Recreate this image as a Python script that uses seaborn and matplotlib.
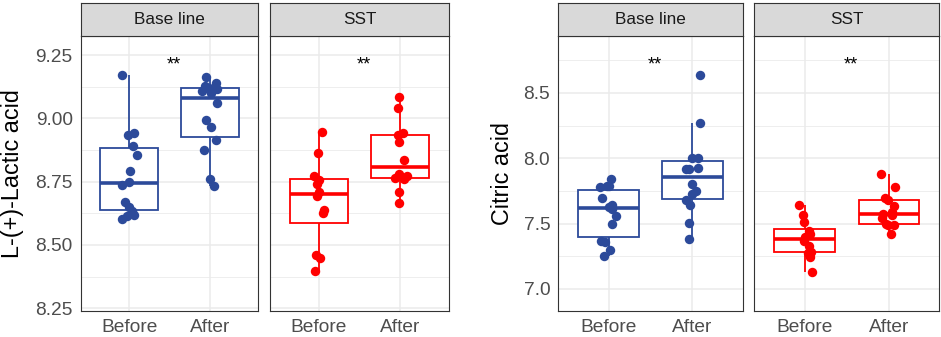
import matplotlib

matplotlib.use("Agg")
import matplotlib.pyplot as plt
import matplotlib.transforms as mtransforms
import numpy as np
import pandas as pd
import seaborn as sns

GROUPS = ["Base line", "SST"]
TIMES = ["Before", "After"]

# L-(+)-Lactic acid
lactic_base_before = [9.172, 8.941, 8.935, 8.892, 8.856, 8.793, 8.750, 8.738, 8.668, 8.648, 8.635, 8.619, 8.615, 8.602]
lactic_base_after = [9.162, 9.140, 9.130, 9.120, 9.115, 9.110, 9.100, 9.063, 8.993, 8.968, 8.915, 8.876, 8.760, 8.732]
lactic_sst_before = [8.947, 8.864, 8.771, 8.757, 8.740, 8.710, 8.694, 8.638, 8.628, 8.459, 8.450, 8.397]
lactic_sst_after = [9.085, 9.040, 8.941, 8.935, 8.905, 8.835, 8.780, 8.771, 8.765, 8.760, 8.710, 8.665]

# Citric acid
citric_base_before = [7.844, 7.790, 7.785, 7.780, 7.698, 7.641, 7.630, 7.608, 7.556, 7.500, 7.364, 7.356, 7.295, 7.249]
citric_base_after = [8.641, 8.269, 8.000, 8.000, 7.928, 7.921, 7.915, 7.800, 7.749, 7.723, 7.679, 7.641, 7.505, 7.385]
citric_sst_before = [7.646, 7.569, 7.510, 7.441, 7.420, 7.395, 7.364, 7.331, 7.280, 7.275, 7.241, 7.133]
citric_sst_after = [7.877, 7.782, 7.692, 7.679, 7.633, 7.590, 7.570, 7.564, 7.544, 7.498, 7.492, 7.490, 7.421]

lactic_ticks = ["8.25", "8.50", "8.75", "9.00", "9.25"]
citric_ticks = ["7.0", "7.5", "8.0", "8.5"]
signif_labels = ["**", "**"]

BLUE = "#2C4A9A"
RED = "#FF0000"
GRID = "#EBEBEB"
BORDER = "#333333"


def make_frame(base_before, base_after, sst_before, sst_after):
    rows = []
    for group, time, vals in [
        ("Base line", "Before", base_before),
        ("Base line", "After", base_after),
        ("SST", "Before", sst_before),
        ("SST", "After", sst_after),
    ]:
        rows += [(group, time, v) for v in vals]
    return pd.DataFrame(rows, columns=["group", "time", "value"])


def draw_panel(fig, rect, sub, color, ticks, ylim, show_y, label, signif):
    ax = fig.add_axes(rect)
    sns.boxplot(
        data=sub, x="time", y="value", order=TIMES, ax=ax,
        color="white", linecolor=color, width=0.72, linewidth=1.3,
        showcaps=False, showfliers=False, whis=1.5,
        medianprops={"linewidth": 2.6, "color": color},
    )
    sns.stripplot(
        data=sub, x="time", y="value", order=TIMES, ax=ax,
        color=color, size=6.8, jitter=0.1, linewidth=0,
    )
    tick_vals = [float(t) for t in ticks]
    step = tick_vals[1] - tick_vals[0]
    minor = [t + step / 2 for t in [tick_vals[0] - step] + tick_vals]
    ax.set_xlim(-0.6, 1.6)
    ax.set_ylim(*ylim)
    ax.set_yticks(tick_vals)
    ax.set_yticks([m for m in minor if ylim[0] < m < ylim[1]], minor=True)
    ax.set_axisbelow(True)
    ax.grid(True, which="major", color=GRID, linewidth=1.1)
    ax.grid(True, which="minor", axis="y", color=GRID, linewidth=0.6)
    ax.set_xlabel("")
    ax.set_ylabel("")
    ax.tick_params(axis="both", which="major", length=3.8, width=0.8, color=BORDER,
                   labelsize=13.8, labelcolor="#4D4D4D", pad=2)
    ax.tick_params(axis="y", which="minor", length=0)
    if show_y:
        ax.set_yticklabels(ticks)
    else:
        ax.tick_params(axis="y", which="major", length=0, labelleft=False)
    for sp in ax.spines.values():
        sp.set_color(BORDER)
        sp.set_linewidth(0.8)
    trans = mtransforms.blended_transform_factory(ax.transData, ax.transAxes)
    ax.text(0.55, 0.893, signif, transform=trans, ha="center", va="center",
            fontsize=13, color="black")

    strip = fig.add_axes([rect[0], rect[1] + rect[3], rect[2], 33.3 / 337])
    strip.set_facecolor("#D9D9D9")
    strip.set_xticks([])
    strip.set_yticks([])
    for sp in strip.spines.values():
        sp.set_color(BORDER)
        sp.set_linewidth(0.8)
    strip.text(0.5, 0.5, label, ha="center", va="center", fontsize=12.3, color="#1A1A1A",
               transform=strip.transAxes)
    return ax


sns.set_style("white")
plt.rcParams["font.family"] = ["Liberation Sans", "DejaVu Sans"]
np.random.seed(7)

lactic = make_frame(lactic_base_before, lactic_base_after, lactic_sst_before, lactic_sst_after)
citric = make_frame(citric_base_before, citric_base_after, citric_sst_before, citric_sst_after)

W, H = 941, 337
fig = plt.figure(figsize=(W / 100, H / 100), dpi=100)
bottom = 1 - 310.7 / H
height = (310.7 - 36) / H

charts = [
    (lactic, lactic_ticks, (8.24, 9.326), [80.7, 270.3], [177.6, 178.4], "L-(+)-Lactic acid", 19.5),
    (citric, citric_ticks, (6.833, 8.936), [558.3, 754.3], [184.4, 185.0], "Citric acid", 509.3),
]
for data, ticks, ylim, lefts, widths, ylabel, ylab_x in charts:
    for i, (group, color) in enumerate(zip(GROUPS, [BLUE, RED])):
        sub = data[data["group"] == group]
        draw_panel(fig, [lefts[i] / W, bottom, widths[i] / W, height], sub, color,
                   ticks, ylim, i == 0, group, signif_labels[i])
    fig.text(ylab_x / W, bottom + height / 2, ylabel, rotation=90, ha="center",
             va="baseline", rotation_mode="anchor", fontsize=16.8, color="black")

fig.savefig("out.png", dpi=100)
plt.close(fig)
